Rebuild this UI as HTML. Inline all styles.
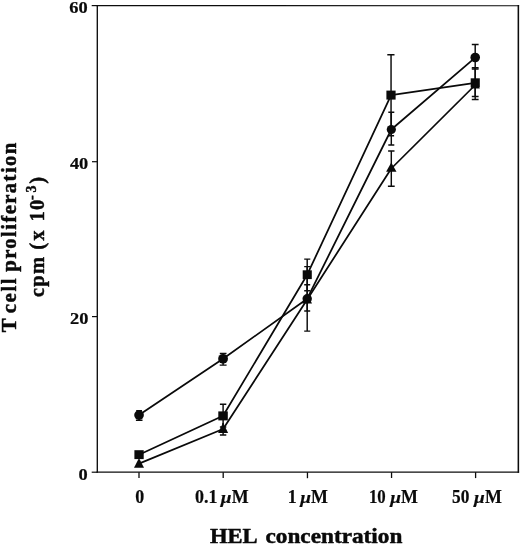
<!DOCTYPE html>
<html>
<head>
<meta charset="utf-8">
<title>T cell proliferation vs HEL concentration</title>
<style>
  html, body { margin: 0; padding: 0; background: #ffffff; }
  body { width: 520px; height: 544px; overflow: hidden; font-family: "Liberation Serif", serif; }
  svg { display: block; filter: grayscale(1); }
  text { font-family: "Liberation Serif", serif; font-weight: bold; fill: #0a0a0a; }
  .ttl text, text.ttl { stroke: #0a0a0a; stroke-width: 0.45; stroke-linejoin: round; }
  .tk text { stroke: #0a0a0a; stroke-width: 0.2; }
  .mu { font-style: italic; font-weight: bold; stroke: none; }
  .ax { stroke: #0c0c0c; fill: none; stroke-linecap: butt; }
  .ln { stroke: #0a0a0a; stroke-width: 1.75; fill: none; stroke-linejoin: round; }
  .eb { stroke: #0c0c0c; stroke-width: 1.45; fill: none; }
  .mk { fill: #0a0a0a; stroke: none; }
</style>
</head>
<body>
<svg width="520" height="544" viewBox="0 0 520 544">
  <rect x="0" y="0" width="520" height="544" fill="#ffffff"/>

  <!-- plot frame -->
  <g class="ax">
    <line x1="96.6" y1="5.6" x2="519.1" y2="5.75" stroke-width="1.15"/>
    <line x1="97.3" y1="5.1" x2="97.3" y2="472.8" stroke-width="1.35"/>
    <line x1="96.6" y1="472.2" x2="519.1" y2="472.2" stroke-width="1.3"/>
    <line x1="518.35" y1="5.1" x2="518.35" y2="472.8" stroke-width="1.55"/>
  </g>

  <!-- y ticks -->
  <g class="ax" stroke-width="1.2">
    <line x1="91.7" y1="5.6" x2="97" y2="5.6"/>
    <line x1="92" y1="161.7" x2="97" y2="161.7"/>
    <line x1="92" y1="316.6" x2="97" y2="316.6"/>
    <line x1="91.7" y1="472.2" x2="97" y2="472.2"/>
  </g>
  <!-- x ticks -->
  <g class="ax" stroke-width="1.3">
    <line x1="139.0" y1="472.2" x2="139.0" y2="478.1"/>
    <line x1="223.2" y1="472.2" x2="223.2" y2="478.1"/>
    <line x1="307.45" y1="472.2" x2="307.45" y2="478.2"/>
    <line x1="391.55" y1="472.2" x2="391.55" y2="478.0"/>
    <line x1="475.6" y1="472.2" x2="475.6" y2="478.1"/>
  </g>

  <!-- y tick labels -->
  <g class="tk" font-size="17.4" text-anchor="start">
    <text x="69.2" y="13.1" textLength="18.4" lengthAdjust="spacingAndGlyphs">60</text>
    <text x="69.9" y="168.7" textLength="18.4" lengthAdjust="spacingAndGlyphs">40</text>
    <text x="70.0" y="323.6" textLength="18.4" lengthAdjust="spacingAndGlyphs">20</text>
    <text x="78.6" y="480.2" textLength="9.2" lengthAdjust="spacingAndGlyphs">0</text>
  </g>

  <!-- x tick labels -->
  <g class="tk" font-size="17.9" text-anchor="start">
    <text x="135.2" y="502.75">0</text>
    <text x="195" y="502.75">0.1</text>
    <text x="220.6" y="502.75" class="mu" font-size="17.2" textLength="11.1" lengthAdjust="spacingAndGlyphs">µ</text>
    <text x="231.7" y="502.75">M</text>
    <text x="287.8" y="502.75">1</text>
    <text x="300.0" y="502.75" class="mu" font-size="17.2" textLength="11.1" lengthAdjust="spacingAndGlyphs">µ</text>
    <text x="311.1" y="502.75">M</text>
    <text x="368.9" y="502.75" textLength="16.8" lengthAdjust="spacingAndGlyphs">10</text>
    <text x="390.0" y="502.75" class="mu" font-size="17.2" textLength="11.1" lengthAdjust="spacingAndGlyphs">µ</text>
    <text x="401.1" y="502.75">M</text>
    <text x="452.0" y="502.75" textLength="17.3" lengthAdjust="spacingAndGlyphs">50</text>
    <text x="473.8" y="502.75" class="mu" font-size="17.2" textLength="11.1" lengthAdjust="spacingAndGlyphs">µ</text>
    <text x="484.9" y="502.75">M</text>
  </g>

  <!-- axis titles -->
  <text class="ttl" x="210" y="542.5" font-size="20.6" textLength="47.6" lengthAdjust="spacingAndGlyphs">HEL</text>
  <text class="ttl" x="265.5" y="542.5" font-size="20.6" textLength="136.8" lengthAdjust="spacingAndGlyphs">concentration</text>
  <g class="ttl" transform="translate(16.3,332.2) rotate(-90)" font-size="20.8">
    <text x="0" y="0">T</text>
    <text x="19" y="0" textLength="34.7" lengthAdjust="spacing">cell</text>
    <text x="60.4" y="0" textLength="129.2" lengthAdjust="spacing">proliferation</text>
  </g>
  <g class="ttl" transform="translate(43.8,297) rotate(-90)" font-size="20.5">
    <text x="0" y="0" textLength="40" lengthAdjust="spacing">cpm</text>
    <text x="47.3" y="0">(</text>
    <text x="56.4" y="0" font-size="20">x</text>
    <text x="75.6" y="0" textLength="21.6" lengthAdjust="spacing">10</text>
    <text x="97" y="-8.2" font-size="14" textLength="14.6" lengthAdjust="spacing">-3</text>
    <text x="113.2" y="0">)</text>
  </g>

  <!-- error bars -->
  <g class="eb">
    <!-- circle series -->
    <path d="M139.1 410.7V420.3M136.2 410.7H142M135.9 420.3H142.5"/>
    <path d="M223.1 353.4V365.1M219.8 353.4H226.5M219.7 365.1H226.6"/>
    <path d="M307.2 266.6V331.1M304.2 266.6H310.2M304.2 331.1H310.3"/>
    <path d="M391.3 112.2V145M388.3 112.2H394.3M388.3 145H394.3"/>
    <path d="M475.2 44.4V68.9M471.8 44.4H478.6M471.8 68.9H478.6"/>
    <!-- square series -->
    <path d="M223.1 404.2V427M219.9 404.2H226.3M219.9 427H226.3"/>
    <path d="M307.2 259.1V290.7M304.2 259.1H310.3M304.2 290.7H310.2"/>
    <path d="M391.05 54.8V135.7M387.3 54.8H394.5M388.1 135.7H394.1"/>
    <path d="M475.2 67.8V96.5M471.8 67.8H478.6M471.8 96.5H478.6"/>
    <!-- triangle series -->
    <path d="M223.1 423V434.9M219.9 434.9H226.3"/>
    <path d="M307.2 284.8V310.9M304.2 284.8H310.2M304.2 310.9H310.2"/>
    <path d="M391.3 150.9V186.3M388.1 150.9H394.5M387.9 186.3H394.7"/>
    <path d="M475.2 68.3V99.5M471.8 99.5H478.6"/>
  </g>

  <!-- series lines -->
  <polyline class="ln" points="139,415 223.1,358.8 307.2,298.7 391.3,129.5 475.2,57.6"/>
  <polyline class="ln" points="139,454.7 223.1,415.8 307.2,274.7 391.1,95.1 475.2,82.9"/>
  <polyline class="ln" points="139,463.6 223.1,429 307.2,299.5 391.3,168.5 475.2,85"/>

  <!-- markers: circles -->
  <g class="mk">
    <circle cx="139.05" cy="415.1" r="4.85"/>
    <circle cx="223.05" cy="358.8" r="4.9"/>
    <circle cx="307.2" cy="298.7" r="4.7"/>
    <circle cx="391.3" cy="129.5" r="4.6"/>
    <circle cx="475.2" cy="57.5" r="4.8"/>
  </g>
  <!-- markers: squares -->
  <g class="mk">
    <rect x="134.4" y="450.2" width="9.3" height="8.9"/>
    <rect x="218.3" y="411.4" width="9.5" height="9"/>
    <rect x="302.7" y="270.3" width="9.1" height="8.8"/>
    <rect x="386.4" y="90.6" width="9.2" height="9"/>
    <rect x="470.7" y="78.3" width="9.1" height="9.1"/>
  </g>
  <!-- markers: triangles -->
  <g class="mk">
    <path d="M139 457.9L144 467.7H134Z"/>
    <path d="M223.1 422.6L228.1 433.1H218.1Z"/>
    <path d="M307.2 294L312 303.4H302.3Z"/>
    <path d="M391.3 162.4L396.5 171.8H386.1Z"/>
    <path d="M475.2 79.5L479.8 88.4H470.6Z"/>
  </g>
</svg>
</body>
</html>
